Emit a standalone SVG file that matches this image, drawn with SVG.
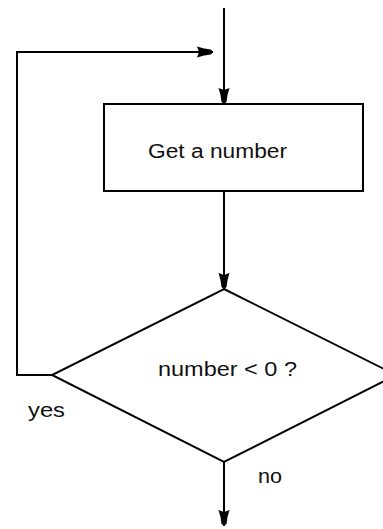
<svg xmlns="http://www.w3.org/2000/svg" width="383" height="529" viewBox="0 0 383 529">
<style>
.ln{fill:none;stroke:#000;stroke-width:2}
.shape{fill:#fff;stroke:#000;stroke-width:2}
.t{font-family:"Liberation Sans","DejaVu Sans",sans-serif;font-size:20px;fill:#111}
</style>
<defs>
<marker id="ah" viewBox="0 0 16 12" refX="16" refY="6" markerWidth="16" markerHeight="12" markerUnits="userSpaceOnUse" orient="auto">
<path d="M0,0.5 L7,2.5 L14,3.5 L16,6 L14,8.5 L7,9.5 L0,11.5 L2,6 z" fill="#000"/>
</marker>
</defs>
<rect width="383" height="529" fill="#fff"/>
<g id="connectors">
<line class="ln" x1="224" y1="8" x2="224" y2="104" marker-end="url(#ah)"/>
<polyline class="ln" points="52,375 17,375 17,52 213,52" marker-end="url(#ah)"/>
<line class="ln" x1="224" y1="191" x2="224" y2="289" marker-end="url(#ah)"/>
<line class="ln" x1="224" y1="462" x2="224" y2="526" marker-end="url(#ah)"/>
</g>
<g id="get-number">
<rect class="shape" x="104" y="104" width="259" height="87"/>
<text class="t" x="148" y="158" textLength="139" lengthAdjust="spacingAndGlyphs">Get a number</text>
</g>
<g id="decision">
<polygon class="shape" points="224,289 396,375 224,462 52,375"/>
<text class="t" x="158" y="376" textLength="139" lengthAdjust="spacingAndGlyphs">number &lt; 0 ?</text>
</g>
<g id="labels">
<text class="t" x="28" y="417" textLength="37" lengthAdjust="spacingAndGlyphs">yes</text>
<text class="t" x="258" y="483" textLength="24" lengthAdjust="spacingAndGlyphs">no</text>
</g>
</svg>
